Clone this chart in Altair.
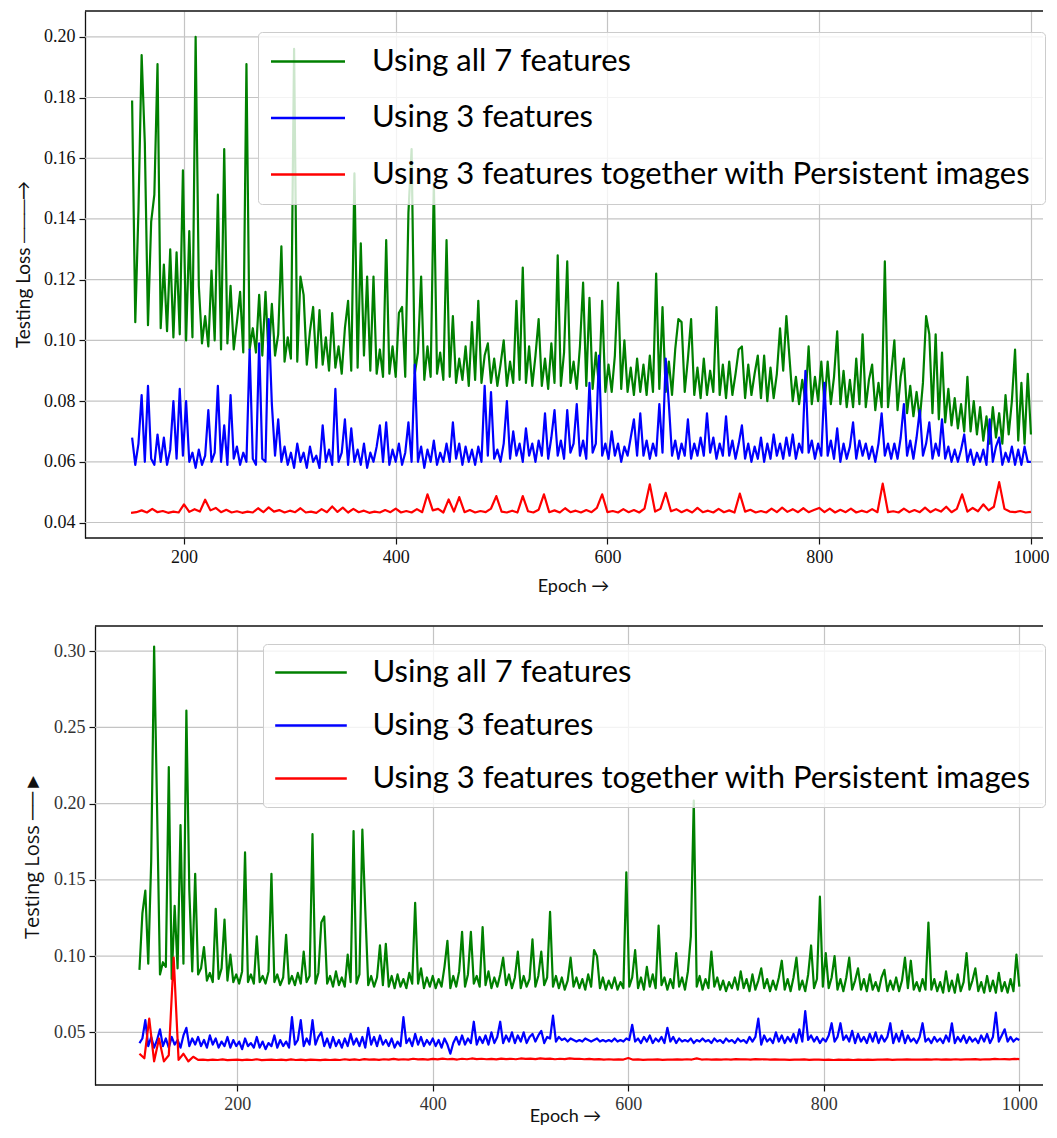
import altair as alt
import pandas as pd

LABELS = ["Using all 7 features", "Using 3 features",
          "Using 3 features together with Persistent images"]
COLORS = ["#008000", "#0000ff", "#ff0000"]

# ================= top panel =================
top_epochs_3 = list(range(151, 1001, 3))      # green / blue readings
top_epochs_5 = list(range(150, 1001, 5))      # red readings

top_all7 = [
    0.179, 0.106, 0.143, 0.194, 0.165, 0.105, 0.139, 0.148, 0.191, 0.104,
    0.125, 0.103, 0.130, 0.101, 0.129, 0.102, 0.156, 0.100, 0.136, 0.101,
    0.200, 0.118, 0.099, 0.108, 0.098, 0.123, 0.100, 0.148, 0.097, 0.163,
    0.099, 0.118, 0.097, 0.106, 0.116, 0.096, 0.191, 0.097, 0.104, 0.096,
    0.115, 0.095, 0.116, 0.094, 0.112, 0.095, 0.102, 0.131, 0.093, 0.101,
    0.094, 0.196, 0.093, 0.121, 0.115, 0.092, 0.103, 0.111, 0.091, 0.110,
    0.092, 0.101, 0.090, 0.109, 0.091, 0.098, 0.089, 0.104, 0.113, 0.090,
    0.155, 0.091, 0.132, 0.095, 0.121, 0.090, 0.121, 0.089, 0.097, 0.088,
    0.133, 0.089, 0.098, 0.088, 0.109, 0.111, 0.088, 0.142, 0.163, 0.089,
    0.096, 0.121, 0.087, 0.098, 0.088, 0.152, 0.089, 0.096, 0.087, 0.133,
    0.088, 0.108, 0.086, 0.094, 0.087, 0.098, 0.085, 0.106, 0.087, 0.113,
    0.086, 0.095, 0.099, 0.086, 0.094, 0.085, 0.092, 0.100, 0.085, 0.093,
    0.086, 0.113, 0.087, 0.124, 0.086, 0.098, 0.085, 0.095, 0.107, 0.085,
    0.094, 0.084, 0.099, 0.086, 0.128, 0.085, 0.096, 0.126, 0.086, 0.093,
    0.084, 0.098, 0.119, 0.085, 0.114, 0.084, 0.096, 0.085, 0.113, 0.083,
    0.092, 0.083, 0.095, 0.119, 0.084, 0.100, 0.083, 0.091, 0.082, 0.094,
    0.083, 0.092, 0.082, 0.095, 0.083, 0.122, 0.084, 0.111, 0.083, 0.093,
    0.082, 0.097, 0.107, 0.106, 0.083, 0.094, 0.107, 0.082, 0.091, 0.081,
    0.094, 0.082, 0.090, 0.083, 0.111, 0.082, 0.092, 0.081, 0.093, 0.082,
    0.089, 0.097, 0.098, 0.081, 0.092, 0.082, 0.089, 0.095, 0.081, 0.095,
    0.080, 0.091, 0.081, 0.089, 0.104, 0.090, 0.108, 0.094, 0.080, 0.088,
    0.079, 0.087, 0.080, 0.098, 0.079, 0.088, 0.080, 0.093, 0.079, 0.093,
    0.079, 0.088, 0.103, 0.079, 0.090, 0.078, 0.087, 0.078, 0.094, 0.079,
    0.102, 0.078, 0.087, 0.092, 0.077, 0.086, 0.078, 0.126, 0.078, 0.089,
    0.100, 0.077, 0.088, 0.094, 0.076, 0.085, 0.075, 0.083, 0.074, 0.086,
    0.108, 0.102, 0.076, 0.102, 0.074, 0.096, 0.073, 0.084, 0.072, 0.081,
    0.071, 0.079, 0.070, 0.088, 0.070, 0.080, 0.069, 0.078, 0.067, 0.075,
    0.066, 0.078, 0.068, 0.076, 0.066, 0.082, 0.069, 0.080, 0.097, 0.067,
    0.086, 0.066, 0.089, 0.069,
]
top_three = [
    0.068, 0.059, 0.066, 0.082, 0.060, 0.085, 0.061, 0.059, 0.069, 0.060,
    0.068, 0.059, 0.064, 0.080, 0.061, 0.084, 0.062, 0.080, 0.060, 0.063,
    0.058, 0.064, 0.059, 0.062, 0.077, 0.060, 0.063, 0.085, 0.060, 0.072,
    0.059, 0.082, 0.061, 0.065, 0.059, 0.063, 0.060, 0.097, 0.061, 0.059,
    0.099, 0.061, 0.060, 0.107, 0.079, 0.062, 0.074, 0.060, 0.065, 0.059,
    0.063, 0.058, 0.066, 0.060, 0.063, 0.058, 0.065, 0.060, 0.062, 0.058,
    0.072, 0.060, 0.064, 0.059, 0.084, 0.060, 0.063, 0.074, 0.059, 0.071,
    0.060, 0.064, 0.059, 0.066, 0.058, 0.063, 0.060, 0.065, 0.072, 0.060,
    0.073, 0.059, 0.064, 0.060, 0.066, 0.059, 0.063, 0.073, 0.060, 0.092,
    0.060, 0.065, 0.058, 0.064, 0.060, 0.067, 0.059, 0.063, 0.060, 0.066,
    0.060, 0.073, 0.061, 0.066, 0.059, 0.065, 0.060, 0.064, 0.059, 0.065,
    0.060, 0.085, 0.062, 0.083, 0.061, 0.064, 0.060, 0.066, 0.080, 0.061,
    0.070, 0.062, 0.066, 0.060, 0.071, 0.062, 0.066, 0.060, 0.067, 0.062,
    0.076, 0.061, 0.068, 0.077, 0.062, 0.067, 0.061, 0.077, 0.063, 0.066,
    0.079, 0.062, 0.067, 0.061, 0.086, 0.063, 0.066, 0.095, 0.062, 0.066,
    0.061, 0.070, 0.062, 0.066, 0.060, 0.065, 0.062, 0.068, 0.074, 0.062,
    0.076, 0.062, 0.067, 0.061, 0.066, 0.062, 0.079, 0.063, 0.094, 0.079,
    0.062, 0.067, 0.061, 0.066, 0.062, 0.074, 0.061, 0.066, 0.062, 0.068,
    0.062, 0.076, 0.063, 0.068, 0.061, 0.066, 0.062, 0.075, 0.062, 0.067,
    0.061, 0.066, 0.072, 0.061, 0.066, 0.060, 0.065, 0.061, 0.068, 0.060,
    0.066, 0.061, 0.069, 0.062, 0.066, 0.061, 0.068, 0.062, 0.069, 0.061,
    0.066, 0.063, 0.090, 0.063, 0.067, 0.061, 0.066, 0.062, 0.086, 0.062,
    0.067, 0.061, 0.071, 0.060, 0.066, 0.061, 0.065, 0.073, 0.061, 0.067,
    0.062, 0.066, 0.061, 0.065, 0.060, 0.066, 0.076, 0.062, 0.066, 0.061,
    0.066, 0.061, 0.068, 0.079, 0.062, 0.067, 0.061, 0.068, 0.077, 0.062,
    0.066, 0.073, 0.061, 0.066, 0.062, 0.074, 0.061, 0.065, 0.060, 0.064,
    0.060, 0.064, 0.069, 0.060, 0.064, 0.059, 0.063, 0.060, 0.064, 0.059,
    0.074, 0.060, 0.065, 0.068, 0.059, 0.063, 0.060, 0.065, 0.059, 0.064,
    0.059, 0.065, 0.060, 0.060,
]
top_pi = [
    0.0432, 0.0434, 0.0440, 0.0433, 0.0445, 0.0434, 0.0438, 0.0432, 0.0436, 0.0433,
    0.0460, 0.0435, 0.0444, 0.0436, 0.0475, 0.0440, 0.0448, 0.0434, 0.0442, 0.0433,
    0.0437, 0.0432, 0.0436, 0.0433, 0.0447, 0.0434, 0.0450, 0.0436, 0.0441, 0.0433,
    0.0439, 0.0434, 0.0447, 0.0433, 0.0436, 0.0432, 0.0444, 0.0434, 0.0453, 0.0435,
    0.0449, 0.0433, 0.0445, 0.0434, 0.0439, 0.0432, 0.0436, 0.0433, 0.0441, 0.0434,
    0.0446, 0.0433, 0.0438, 0.0433, 0.0444, 0.0434, 0.0493, 0.0440, 0.0445, 0.0433,
    0.0476, 0.0436, 0.0484, 0.0434, 0.0441, 0.0433, 0.0438, 0.0434, 0.0446, 0.0487,
    0.0436, 0.0433, 0.0439, 0.0433, 0.0487, 0.0437, 0.0433, 0.0442, 0.0493, 0.0434,
    0.0440, 0.0433, 0.0447, 0.0434, 0.0439, 0.0433, 0.0441, 0.0434, 0.0448, 0.0493,
    0.0434, 0.0438, 0.0433, 0.0444, 0.0434, 0.0441, 0.0433, 0.0446, 0.0526, 0.0436,
    0.0445, 0.0498, 0.0437, 0.0444, 0.0434, 0.0442, 0.0433, 0.0448, 0.0434, 0.0439,
    0.0433, 0.0445, 0.0434, 0.0440, 0.0433, 0.0495, 0.0436, 0.0442, 0.0433, 0.0438,
    0.0433, 0.0446, 0.0434, 0.0449, 0.0435, 0.0444, 0.0434, 0.0447, 0.0434, 0.0441,
    0.0448, 0.0434, 0.0446, 0.0433, 0.0442, 0.0434, 0.0446, 0.0433, 0.0439, 0.0434,
    0.0444, 0.0434, 0.0528, 0.0434, 0.0437, 0.0433, 0.0446, 0.0434, 0.0441, 0.0434,
    0.0449, 0.0434, 0.0444, 0.0436, 0.0452, 0.0434, 0.0445, 0.0493, 0.0436, 0.0448,
    0.0437, 0.0460, 0.0440, 0.0452, 0.0533, 0.0445, 0.0436, 0.0434, 0.0438, 0.0433,
    0.0435,
]

# ================= bottom panel =================
bot_epochs_3 = list(range(100, 1001, 3))
bot_epochs_5 = list(range(100, 1001, 5))

bot_all7 = [
    0.091, 0.128, 0.143, 0.095, 0.162, 0.303, 0.198, 0.088, 0.096, 0.093,
    0.224, 0.085, 0.133, 0.092, 0.186, 0.095, 0.261, 0.143, 0.090, 0.154,
    0.088, 0.092, 0.106, 0.084, 0.089, 0.083, 0.131, 0.085, 0.092, 0.124,
    0.084, 0.101, 0.083, 0.088, 0.082, 0.090, 0.168, 0.083, 0.088, 0.082,
    0.113, 0.083, 0.087, 0.082, 0.090, 0.154, 0.083, 0.088, 0.081, 0.086,
    0.114, 0.082, 0.087, 0.081, 0.089, 0.082, 0.103, 0.083, 0.087, 0.180,
    0.082, 0.089, 0.122, 0.126, 0.082, 0.087, 0.080, 0.090, 0.081, 0.086,
    0.080, 0.101, 0.083, 0.182, 0.082, 0.088, 0.183, 0.130, 0.081, 0.087,
    0.080, 0.086, 0.107, 0.081, 0.108, 0.080, 0.087, 0.079, 0.088, 0.080,
    0.085, 0.079, 0.089, 0.082, 0.135, 0.082, 0.092, 0.079, 0.086, 0.080,
    0.087, 0.079, 0.085, 0.080, 0.093, 0.110, 0.079, 0.087, 0.080, 0.090,
    0.116, 0.080, 0.088, 0.116, 0.082, 0.087, 0.080, 0.119, 0.081, 0.090,
    0.079, 0.086, 0.080, 0.088, 0.099, 0.081, 0.088, 0.079, 0.086, 0.103,
    0.079, 0.087, 0.080, 0.085, 0.111, 0.080, 0.087, 0.103, 0.081, 0.086,
    0.129, 0.080, 0.087, 0.079, 0.086, 0.078, 0.084, 0.099, 0.080, 0.086,
    0.079, 0.085, 0.078, 0.088, 0.080, 0.104, 0.100, 0.079, 0.086, 0.078,
    0.084, 0.079, 0.086, 0.078, 0.083, 0.079, 0.155, 0.080, 0.086, 0.104,
    0.079, 0.086, 0.078, 0.093, 0.080, 0.088, 0.079, 0.120, 0.081, 0.086,
    0.078, 0.085, 0.079, 0.102, 0.080, 0.086, 0.078, 0.090, 0.113, 0.202,
    0.080, 0.087, 0.078, 0.085, 0.079, 0.103, 0.080, 0.086, 0.078, 0.084,
    0.077, 0.083, 0.079, 0.086, 0.078, 0.090, 0.079, 0.085, 0.077, 0.088,
    0.078, 0.084, 0.092, 0.079, 0.085, 0.077, 0.084, 0.078, 0.086, 0.097,
    0.078, 0.085, 0.077, 0.086, 0.099, 0.078, 0.084, 0.077, 0.088, 0.107,
    0.079, 0.085, 0.139, 0.080, 0.102, 0.079, 0.086, 0.100, 0.078, 0.085,
    0.077, 0.086, 0.099, 0.078, 0.084, 0.092, 0.078, 0.085, 0.077, 0.088,
    0.078, 0.083, 0.077, 0.086, 0.091, 0.077, 0.084, 0.078, 0.086, 0.077,
    0.084, 0.099, 0.079, 0.097, 0.078, 0.083, 0.077, 0.085, 0.078, 0.122,
    0.078, 0.085, 0.077, 0.083, 0.076, 0.090, 0.077, 0.084, 0.076, 0.088,
    0.077, 0.083, 0.102, 0.078, 0.084, 0.092, 0.077, 0.083, 0.076, 0.087,
    0.077, 0.084, 0.076, 0.089, 0.077, 0.083, 0.076, 0.085, 0.077, 0.101,
    0.080,
]
bot_three = [
    0.043, 0.046, 0.058, 0.041, 0.047, 0.040, 0.045, 0.052, 0.041, 0.046,
    0.040, 0.047, 0.042, 0.045, 0.040, 0.048, 0.053, 0.041, 0.046, 0.042,
    0.047, 0.041, 0.045, 0.040, 0.048, 0.042, 0.046, 0.040, 0.044, 0.041,
    0.047, 0.040, 0.045, 0.041, 0.044, 0.039, 0.046, 0.041, 0.043, 0.040,
    0.047, 0.040, 0.044, 0.039, 0.043, 0.041, 0.048, 0.040, 0.045, 0.041,
    0.044, 0.040, 0.060, 0.042, 0.045, 0.058, 0.041, 0.046, 0.042, 0.058,
    0.042, 0.047, 0.050, 0.041, 0.046, 0.040, 0.047, 0.041, 0.045, 0.040,
    0.046, 0.041, 0.049, 0.042, 0.046, 0.041, 0.047, 0.040, 0.053, 0.042,
    0.047, 0.041, 0.048, 0.042, 0.045, 0.041, 0.046, 0.040, 0.044, 0.041,
    0.060, 0.043, 0.046, 0.041, 0.049, 0.042, 0.047, 0.041, 0.045, 0.042,
    0.046, 0.041, 0.045, 0.040, 0.046, 0.042, 0.036, 0.043, 0.047, 0.042,
    0.048, 0.042, 0.046, 0.043, 0.057, 0.042, 0.047, 0.043, 0.048, 0.042,
    0.050, 0.043, 0.047, 0.057, 0.043, 0.048, 0.044, 0.050, 0.043, 0.048,
    0.044, 0.050, 0.043, 0.047, 0.049, 0.044, 0.048, 0.051, 0.043, 0.047,
    0.046, 0.061, 0.044, 0.047, 0.045, 0.046, 0.044, 0.046, 0.045, 0.044,
    0.045, 0.044, 0.046, 0.045, 0.044, 0.045, 0.046, 0.044, 0.045, 0.044,
    0.045, 0.044, 0.046, 0.044, 0.045, 0.044, 0.046, 0.045, 0.055, 0.044,
    0.046, 0.043, 0.047, 0.044, 0.048, 0.043, 0.046, 0.044, 0.047, 0.043,
    0.053, 0.044, 0.047, 0.043, 0.046, 0.044, 0.045, 0.044, 0.046, 0.043,
    0.045, 0.044, 0.046, 0.044, 0.045, 0.043, 0.046, 0.044, 0.045, 0.043,
    0.046, 0.044, 0.045, 0.043, 0.046, 0.044, 0.045, 0.043, 0.047, 0.044,
    0.047, 0.059, 0.042, 0.048, 0.044, 0.046, 0.043, 0.050, 0.044, 0.048,
    0.043, 0.047, 0.044, 0.049, 0.043, 0.052, 0.044, 0.064, 0.045, 0.048,
    0.044, 0.047, 0.043, 0.046, 0.044, 0.048, 0.056, 0.044, 0.047, 0.056,
    0.045, 0.048, 0.044, 0.051, 0.043, 0.049, 0.044, 0.047, 0.043, 0.049,
    0.044, 0.050, 0.043, 0.048, 0.044, 0.047, 0.056, 0.043, 0.049, 0.044,
    0.051, 0.043, 0.048, 0.044, 0.046, 0.043, 0.047, 0.056, 0.044, 0.046,
    0.043, 0.047, 0.044, 0.046, 0.043, 0.048, 0.044, 0.056, 0.043, 0.047,
    0.044, 0.048, 0.043, 0.047, 0.044, 0.046, 0.043, 0.048, 0.044, 0.049,
    0.043, 0.047, 0.063, 0.044, 0.048, 0.052, 0.044, 0.047, 0.044, 0.046,
    0.045,
]
bot_pi = [
    0.036, 0.033, 0.059, 0.031, 0.046, 0.031, 0.035, 0.099, 0.032, 0.036,
    0.031, 0.034, 0.032, 0.0322, 0.0318, 0.0321, 0.0319, 0.0323, 0.0318, 0.0320,
    0.0322, 0.0318, 0.0321, 0.0319, 0.0324, 0.0318, 0.0320, 0.0322, 0.0319, 0.0321,
    0.0318, 0.0323, 0.0319, 0.0321, 0.0318, 0.0322, 0.0320, 0.0318, 0.0321, 0.0319,
    0.0322, 0.0319, 0.0324, 0.0320, 0.0323, 0.0319, 0.0325, 0.0321, 0.0323, 0.0320,
    0.0324, 0.0321, 0.0326, 0.0322, 0.0324, 0.0321, 0.0327, 0.0323, 0.0325, 0.0322,
    0.0326, 0.0323, 0.0328, 0.0324, 0.0326, 0.0322, 0.0327, 0.0324, 0.0329, 0.0325,
    0.0327, 0.0324, 0.0326, 0.0323, 0.0328, 0.0325, 0.0327, 0.0324, 0.0329, 0.0326,
    0.0328, 0.0325, 0.0330, 0.0326, 0.0328, 0.0324, 0.0327, 0.0325, 0.0329, 0.0326,
    0.0327, 0.0324, 0.0326, 0.0323, 0.0325, 0.0322, 0.0324, 0.0321, 0.0323, 0.0322,
    0.0332, 0.0321, 0.0323, 0.0320, 0.0322, 0.0321, 0.0323, 0.0320, 0.0322, 0.0321,
    0.0323, 0.0321, 0.0324, 0.0322, 0.0330, 0.0322, 0.0324, 0.0321, 0.0323, 0.0322,
    0.0324, 0.0322, 0.0325, 0.0323, 0.0324, 0.0322, 0.0325, 0.0323, 0.0324, 0.0322,
    0.0323, 0.0321, 0.0322, 0.0320, 0.0322, 0.0321, 0.0323, 0.0320, 0.0322, 0.0321,
    0.0320, 0.0322, 0.0319, 0.0321, 0.0320, 0.0322, 0.0319, 0.0321, 0.0320, 0.0322,
    0.0320, 0.0322, 0.0321, 0.0323, 0.0320, 0.0322, 0.0321, 0.0323, 0.0321, 0.0322,
    0.0321, 0.0323, 0.0322, 0.0324, 0.0322, 0.0323, 0.0321, 0.0324, 0.0322, 0.0323,
    0.0323, 0.0325, 0.0322, 0.0324, 0.0323, 0.0326, 0.0324, 0.0325, 0.0323, 0.0326,
    0.0325,
]

top_yticks = [0.04, 0.06, 0.08, 0.10, 0.12, 0.14, 0.16, 0.18, 0.20]
bot_yticks = [0.05, 0.10, 0.15, 0.20, 0.25, 0.30]
x_ticks = [200, 400, 600, 800, 1000]

W = 958
GRID = "#c4c4c4"
FRAME = "#111111"


def long_table(parts):
    rows = []
    for name, (epochs, vals) in zip(LABELS, parts):
        assert len(vals) == len(epochs), (name, len(vals), len(epochs))
        for e, v in zip(epochs, vals):
            rows.append({"epoch": e, "loss": v, "series": name})
    return pd.DataFrame(rows)


def panel(df, x_dom, y_dom, y_ticks, height, shift, y_title, y_title_font,
          y_title_size, y_title_x, y_title_y, x_title_x, x_title_y,
          label_color, label_size, legend):
    x_enc = alt.X(
        "epoch:Q",
        scale=alt.Scale(domain=x_dom, nice=False, zero=False),
        axis=alt.Axis(values=x_ticks, format="d", title="Epoch →", grid=True,
                      domain=False, labelPadding=4, labelColor=label_color,
                      labelFontSize=label_size,
                      titleX=x_title_x, titleY=x_title_y,
                      titleBaseline="middle", titleAlign="center"),
    )
    y_enc = alt.Y(
        "loss:Q",
        scale=alt.Scale(domain=y_dom, nice=False, zero=False),
        axis=alt.Axis(values=y_ticks, format=".2f", title=y_title, grid=False,
                      offset=-shift, labelPadding=4, labelColor=label_color,
                      labelFontSize=label_size,
                      titleFont=y_title_font, titleFontSize=y_title_size,
                      titleAngle=270, titleX=y_title_x, titleY=y_title_y,
                      titleAlign="center", titleBaseline="alphabetic"),
    )
    hgrid = alt.Chart(pd.DataFrame({"loss": y_ticks})).mark_rule(
        color=GRID, strokeWidth=1.2
    ).encode(y=y_enc, x=alt.value(shift), x2=alt.value(W))

    lines = alt.Chart(df).mark_line(
        strokeWidth=2.2, strokeJoin="round", clip=True
    ).encode(
        x=x_enc,
        y=y_enc,
        color=alt.Color("series:N",
                        scale=alt.Scale(domain=LABELS, range=COLORS),
                        legend=legend),
    )
    one = pd.DataFrame({"k": [0]})
    top_rule = alt.Chart(one).mark_rule(color=FRAME, strokeWidth=1.3).encode(
        y=alt.value(0), x=alt.value(shift), x2=alt.value(W))
    bot_rule = alt.Chart(one).mark_rule(color=FRAME, strokeWidth=1.3).encode(
        y=alt.value(height), x=alt.value(shift), x2=alt.value(W))
    return alt.layer(hgrid, lines, top_rule, bot_rule).properties(
        width=W, height=height)


top_df = long_table([(top_epochs_3, top_all7), (top_epochs_3, top_three),
                     (top_epochs_5, top_pi)])
bot_df = long_table([(bot_epochs_3, bot_all7), (bot_epochs_3, bot_three),
                     (bot_epochs_5, bot_pi)])

top_legend = alt.Legend(
    title=None, orient="none", legendX=173, legendY=21,
    symbolType="M-3.7,0L3.7,0", symbolSize=400, symbolStrokeWidth=2.5,
    symbolOffset=20.5, symbolFillColor="transparent",
    labelOffset=48.5, labelFont="Lato", labelFontSize=31, labelColor="#000000",
    labelLimit=1200, padding=14, rowPadding=24.5,
    fillColor="rgba(255,255,255,0.8)", strokeColor="#cccccc", cornerRadius=4,
)
bot_legend = alt.Legend(
    title=None, orient="none", legendX=178, legendY=18,
    symbolType="M-3.58,0L3.58,0", symbolSize=400, symbolStrokeWidth=2.5,
    symbolOffset=19.5, symbolFillColor="transparent",
    labelOffset=46, labelFont="Lato", labelFontSize=31, labelColor="#000000",
    labelLimit=1200, padding=13, rowPadding=21,
    fillColor="rgba(255,255,255,0.8)", strokeColor="#cccccc", cornerRadius=4,
)

TOP_H = 527
BOT_H = 459

top = panel(top_df, [106.5, 1011.4], [0.0349, 0.2085], top_yticks, TOP_H, 0,
            "Testing Loss ───→", "Lato", 19, -56, 253, 488, 48, "#111111", 18,
            top_legend)
bottom = panel(bot_df, [44.3, 1024.2], [0.0155, 0.3165], bot_yticks, BOT_H, 10,
               "Testing Loss ──►", "Open Sans", 20, -57, 229, 480, 31,
               "#333333", 18, bot_legend)

chart = alt.vconcat(top, bottom, spacing=88, bounds="flush").resolve_scale(
    color="independent"
).properties(
    padding={"left": 6, "top": 2, "right": 0, "bottom": 0},
).configure_view(
    stroke=None
).configure_axis(
    labelFont="Liberation Serif", labelFontSize=18,
    tickColor=FRAME, tickSize=6, tickWidth=1.2,
    domainColor=FRAME, domainWidth=1.3,
    gridColor=GRID, gridWidth=1.2,
    titleFont="Lato", titleFontSize=18, titleFontWeight="normal",
    titleColor="#111111",
)

chart.save("out.html", embed_options={"renderer": "svg", "actions": False})
